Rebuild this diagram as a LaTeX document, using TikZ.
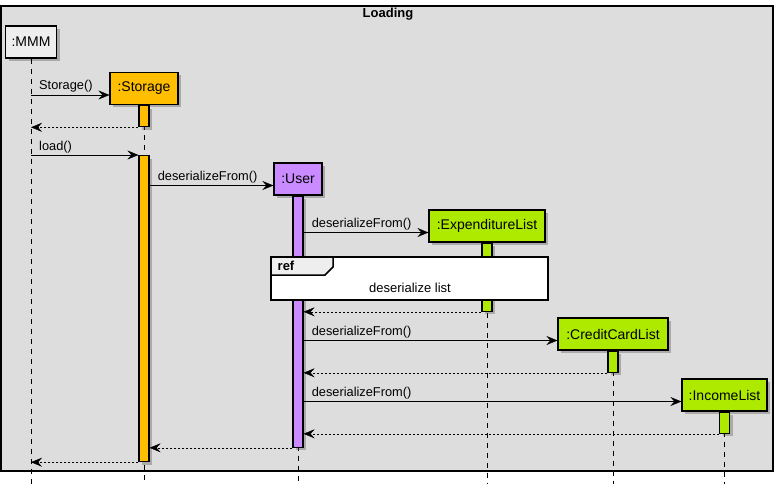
\documentclass[tikz,border=0pt]{standalone}
\usepackage{fontspec}
\setmainfont{Liberation Sans}
\usetikzlibrary{arrows.meta,shadows}

\definecolor{framegray}{HTML}{DDDDDD}
\definecolor{headgray}{HTML}{EEEEEE}
\definecolor{storcol}{HTML}{FFBF00}
\definecolor{usercol}{HTML}{C98BFF}
\definecolor{listcol}{HTML}{AEEA00}

\tikzset{
  shade/.style={drop shadow={shadow xshift=3pt,shadow yshift=-3pt,opacity=0.35,fill=black!70}},
  part/.style={draw,line width=1.2pt,inner sep=0pt,minimum height=32,shade,
    font=\fontsize{14}{16}\selectfont},
  bar/.style={draw,line width=1.2pt,inner sep=0pt,minimum width=10,anchor=north,shade},
  life/.style={dash pattern=on 5pt off 5pt},
  msg/.style={-{Stealth[length=11pt,width=9pt,inset=4pt]}},
  back/.style={msg,dash pattern=on 2pt off 2pt},
  lbl/.style={font=\fontsize{12.8}{15}\selectfont,inner sep=0pt,anchor=base west,xshift=8,yshift=5}
}

\begin{document}
\begin{tikzpicture}[x=1pt,y=-1pt]
\useasboundingbox (0,0) rectangle (779,484);

% frame
\draw[fill=framegray,line width=1.2pt] (1,6) rectangle (773,471);
\node[font=\bfseries\fontsize{13}{15}\selectfont] (title) at (388,14) {Loading};

% participants
\node[part,fill=headgray,minimum width=51] (MMM) at (31,42) {:MMM};
\node[part,fill=storcol,minimum width=68] (Storage) at (144,88.5) {:Storage};
\node[part,fill=usercol,minimum width=48] (User) at (298,179) {:User};
\node[part,fill=listcol,minimum width=116] (Exp) at (487,226) {:ExpenditureList};
\node[part,fill=listcol,minimum width=110] (CC) at (613,334) {:CreditCardList};
\node[part,fill=listcol,minimum width=85] (Inc) at (724.5,395) {:IncomeList};

\coordinate (end) at (0,484);
% arrows meet a box a little below its middle
\foreach \p in {Storage,User,Exp,CC,Inc}
  \coordinate (in\p) at ([yshift=-6.5pt]\p.west);

% lifelines
\foreach \p in {MMM,Storage,User,Exp,CC,Inc}
  \draw[life] (\p.south) -- (\p.south |- end);

% activations
\node[bar,fill=storcol,minimum height=21] (stA) at (Storage.south) {};
\node[bar,fill=storcol,minimum height=306] (stB) at (144,155) {};
\node[bar,fill=usercol,minimum height=251] (usA) at (User.south) {};
\node[bar,fill=listcol,minimum height=68] (exA) at (Exp.south) {};
\node[bar,fill=listcol,minimum height=21] (ccA) at (CC.south) {};
\node[bar,fill=listcol,minimum height=21] (inA) at (Inc.south) {};

% messages
\draw[msg] (MMM |- inStorage) -- node[lbl,pos=0] {Storage()} (inStorage);
\draw[back] (stA.south west) -- (MMM |- stA.south);
\draw[msg] (MMM |- stB.north) -- node[lbl,pos=0] {load()} (stB.north west);
\draw[msg] (stB.east |- inUser) -- node[lbl,pos=0] {deserializeFrom()} (inUser);
\draw[msg] (usA.east |- inExp) -- node[lbl,pos=0] {deserializeFrom()} (inExp);

% ref frame
\draw[fill=white,line width=1.5pt] (271,257) rectangle (548,300);
\draw[fill=headgray,line width=1.5pt] (271,257) -- (333,257) -- (333,267) -- (325,275) -- (271,275) -- cycle;
\node[font=\bfseries\fontsize{13}{15}\selectfont] (ref) at (286,266) {ref};
\node[font=\fontsize{13}{15}\selectfont] (refText) at (410,288) {deserialize list};

\draw[back] (exA.south west) -- (usA.east |- exA.south);
\draw[msg] (usA.east |- inCC) -- node[lbl,pos=0] {deserializeFrom()} (inCC);
\draw[back] (ccA.south west) -- (usA.east |- ccA.south);
\draw[msg] (usA.east |- inInc) -- node[lbl,pos=0] {deserializeFrom()} (inInc);
\draw[back] (inA.south west) -- (usA.east |- inA.south);
\draw[back] (usA.south west) -- (stB.east |- usA.south);
\draw[back] (stB.south west) -- (MMM |- stB.south);
\end{tikzpicture}
\end{document}
